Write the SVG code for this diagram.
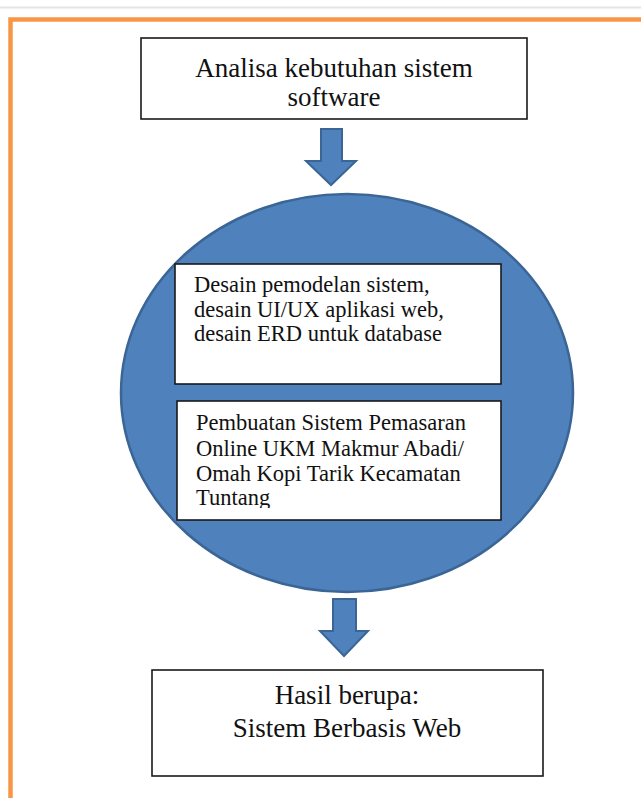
<svg xmlns="http://www.w3.org/2000/svg" width="641" height="798" viewBox="0 0 641 798">
  <style>
    .box { fill: #ffffff; stroke: #1a1a1a; stroke-width: 1.6; }
    .arrow { fill: #4F81BD; stroke: #3A6595; stroke-width: 2; stroke-linejoin: miter; }
    .big { font-family: "Liberation Serif", "Times New Roman", serif; font-size: 27px; fill: #111111; }
    .mid { font-family: "Liberation Serif", "Times New Roman", serif; font-size: 22.5px; fill: #111111; }
  </style>
  <defs>
    <clipPath id="clip3">
      <rect x="178" y="402" width="322" height="106"/>
    </clipPath>
  </defs>
  <rect x="0" y="0" width="641" height="798" fill="#ffffff"/>
  <line x1="0" y1="7.5" x2="641" y2="7.5" stroke="#e4e4e4" stroke-width="2"/>
  <g id="frame">
    <path d="M10.5,798 V19.5 H641" fill="none" stroke="#F79646" stroke-width="4.5"/>
  </g>

  <g id="analisa">
    <rect class="box" x="141" y="38" width="386" height="81"/>
    <text class="big" x="334" y="77" text-anchor="middle">Analisa kebutuhan sistem</text>
    <text class="big" x="334" y="106" text-anchor="middle">software</text>
  </g>

  <g id="ellipse">
    <ellipse cx="347" cy="393" rx="226" ry="199" fill="#4F81BD" stroke="#3A6595" stroke-width="2.5"/>
  </g>

  <g id="desain">
    <rect class="box" x="175" y="264" width="326" height="120" stroke-width="2"/>
    <text class="mid" x="194" y="292">Desain pemodelan sistem,</text>
    <text class="mid" x="194" y="317">desain UI/UX aplikasi web,</text>
    <text class="mid" x="194" y="341">desain ERD untuk database</text>
  </g>

  <g id="pembuatan">
    <rect class="box" x="177" y="401" width="324" height="119" stroke-width="2"/>
    <g clip-path="url(#clip3)">
      <text class="mid" x="196" y="430">Pembuatan Sistem Pemasaran</text>
      <text class="mid" x="196" y="456">Online UKM Makmur Abadi/</text>
      <text class="mid" x="196" y="481">Omah Kopi Tarik Kecamatan</text>
      <text class="mid" x="196" y="505">Tuntang</text>
    </g>
  </g>

  <g id="hasil">
    <rect class="box" x="152" y="670" width="391" height="106"/>
    <text class="big" x="347" y="704" text-anchor="middle">Hasil berupa:</text>
    <text class="big" x="347" y="737" text-anchor="middle">Sistem Berbasis Web</text>
  </g>

  <g id="connectors">
    <polygon class="arrow" points="321,129 342,129 342,161 356,161 331,185 306,161 321,161"/>
    <polygon class="arrow" points="333,599 356,599 356,631 368,631 344,656 320,631 333,631"/>
  </g>
</svg>
